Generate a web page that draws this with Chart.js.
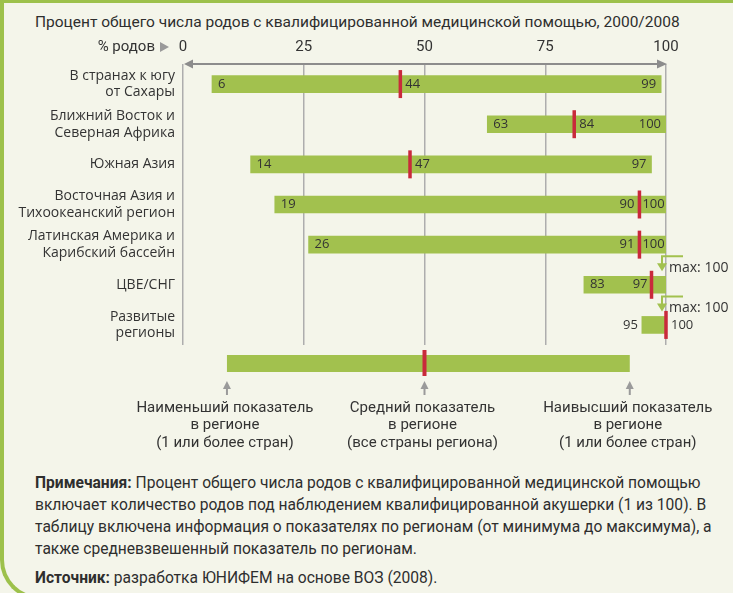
<!DOCTYPE html>
<html>
<head>
<meta charset="utf-8">
<script src="https://cdn.jsdelivr.net/npm/chart.js@4.4.1/dist/chart.umd.min.js"></script>
<style>
  html, body { margin: 0; padding: 0; background: #f4f5ea; }
  body { width: 733px; height: 593px; position: relative; overflow: hidden; font-family: Roboto, sans-serif; color: #2e2e2e; }
  #frame { position: absolute; left: 0; top: 0; width: 780px; height: 600px; box-sizing: border-box;
           border-left: 4px solid #9dc14b; border-top: 3px solid #9dc14b; border-bottom: 4px solid #9dc14b;
           border-bottom-left-radius: 40px; }
  #chart { position: absolute; left: 0; top: 0; }
  .title { position: absolute; left: 35px; top: 12px; font-size: 15.5px; line-height: 20px; white-space: nowrap; }
  .notes { position: absolute; left: 35px; top: 472px; font-size: 15.6px; line-height: 22px; white-space: nowrap; }
  .source { position: absolute; left: 35px; top: 567px; font-size: 15.6px; line-height: 22px; white-space: nowrap; }
</style>
</head>
<body>
<div id="frame"></div>
<div class="title">Процент общего числа родов с квалифицированной медицинской помощью, 2000/2008</div>
<canvas id="chart" width="733" height="460"></canvas>
<div class="notes"><b>Примечания:</b> Процент общего числа родов с квалифицированной медицинской помощью<br>включает количество родов под наблюдением квалифицированной акушерки (1 из 100). В<br>таблицу включена информация о показателях по регионам (от минимума до максимума), а<br>также средневзвешенный показатель по регионам.</div>
<div class="source"><b>Источник:</b> разработка ЮНИФЕМ на основе ВОЗ (2008).</div>
<script>
const regions = [
  ['В странах к югу', 'от Сахары'],
  ['Ближний Восток и', 'Северная Африка'],
  ['Южная Азия'],
  ['Восточная Азия и', 'Тихоокеанский регион'],
  ['Латинская Америка и', 'Карибский бассейн'],
  ['ЦВЕ/СНГ'],
  ['Развитые', 'регионы']
];
const minValues = [6, 63, 14, 19, 26, 83, 95];
const avgValues = [44, 84, 47, 90, 91, 97, 100];
const maxValues = [99, 100, 97, 100, 100, 100, 100];
// where the red average tick actually sits in the source figure
const avgMarks = [45, 81, 47, 94.5, 94.5, 97, 100];
const xTicks = [0, 25, 50, 75, 100];

const GREEN = '#a2c14e';
const RED = '#c92a3b';
const GREY = '#8c8c8c';
const TEXT = '#333333';
const LABEL_FONT = '13px "Open Sans"';

function tri(ctx, pts) {
  ctx.beginPath();
  ctx.moveTo(pts[0], pts[1]);
  ctx.lineTo(pts[2], pts[3]);
  ctx.lineTo(pts[4], pts[5]);
  ctx.closePath();
  ctx.fill();
}

function maxCallout(ctx, xEnd, top) {
  // small green bent arrow with "max: 100" above the bar
  const ax = xEnd - 4;
  ctx.strokeStyle = GREEN;
  ctx.fillStyle = GREEN;
  ctx.lineWidth = 2;
  ctx.beginPath();
  ctx.moveTo(xEnd + 17, top - 20);
  ctx.lineTo(ax, top - 20);
  ctx.lineTo(ax, top - 12);
  ctx.stroke();
  tri(ctx, [ax - 5, top - 13, ax + 5, top - 13, ax, top - 5]);
  ctx.fillStyle = TEXT;
  ctx.font = '14px "Open Sans"';
  ctx.textAlign = 'left';
  ctx.fillText('max: 100', xEnd + 3, top - 8);
}

const overlay = {
  id: 'overlay',
  afterDatasetsDraw(chart) {
    const { ctx, chartArea: a, scales: { x } } = chart;
    ctx.save();

    // top axis line with arrow heads
    ctx.strokeStyle = GREY;
    ctx.fillStyle = GREY;
    ctx.lineWidth = 2;
    ctx.beginPath();
    ctx.moveTo(a.left + 8, a.top);
    ctx.lineTo(a.right - 8, a.top);
    ctx.stroke();
    tri(ctx, [a.left + 1, a.top, a.left + 10, a.top - 4.5, a.left + 10, a.top + 4.5]);
    tri(ctx, [a.right + 1, a.top, a.right - 9, a.top - 4.5, a.right - 9, a.top + 4.5]);

    // axis caption
    ctx.fillStyle = TEXT;
    ctx.font = '15px Roboto';
    ctx.textBaseline = 'middle';
    ctx.textAlign = 'right';
    ctx.fillText('% родов', 155, 47);
    ctx.fillStyle = '#9a9a9a';
    tri(ctx, [160, 42, 160, 52, 169, 47]);

    // averages and value labels
    const meta = chart.getDatasetMeta(0);
    meta.data.forEach((bar, i) => {
      const cy = bar.y;
      const top = cy - 8.5;
      const x0 = x.getPixelForValue(minValues[i]);
      const x1 = x.getPixelForValue(maxValues[i]);
      const xm = x.getPixelForValue(avgMarks[i]);

      ctx.fillStyle = RED;
      ctx.fillRect(xm - 1.75, cy - 14, 3.5, 28);

      ctx.fillStyle = TEXT;
      ctx.font = LABEL_FONT;
      ctx.textBaseline = 'middle';

      if (x1 - x0 > 40) {
        ctx.textAlign = 'left';
        ctx.fillText(minValues[i], x0 + 6, cy);
      } else {
        ctx.textAlign = 'right';
        ctx.fillText(minValues[i], x0 - 4, cy);
      }

      const gap = x1 - xm;
      if (gap > 40) {
        ctx.textAlign = 'left';
        ctx.fillText(avgValues[i], xm + 5, cy);
        ctx.textAlign = 'right';
        ctx.fillText(maxValues[i], x1 - 5, cy);
      } else if (gap > 15) {
        ctx.textAlign = 'right';
        ctx.fillText(avgValues[i], xm - 5, cy);
        ctx.textAlign = 'left';
        ctx.fillText(maxValues[i], xm + 3, cy);
      } else if (gap > 5) {
        ctx.textAlign = 'right';
        ctx.fillText(avgValues[i], xm - 4, cy);
        maxCallout(ctx, x1, top);
      } else {
        ctx.textAlign = 'left';
        ctx.fillText(avgValues[i], xm + 5, cy);
        maxCallout(ctx, x1, top);
      }
    });

    // key below the chart
    const kx0 = x.getPixelForValue(9.1);
    const kxm = x.getPixelForValue(50);
    const kx1 = x.getPixelForValue(92.5);
    ctx.fillStyle = GREEN;
    ctx.fillRect(kx0, 355, kx1 - kx0, 17);
    ctx.fillStyle = RED;
    ctx.fillRect(kxm - 2, 350, 4, 26);

    const keyText = [
      ['Наименьший показатель', 'в регионе', '(1 или более стран)'],
      ['Средний показатель', 'в регионе', '(все страны региона)'],
      ['Наивысший показатель', 'в регионе', '(1 или более стран)']
    ];
    [kx0, kxm, kx1].forEach((kx, j) => {
      ctx.fillStyle = '#9a9a9a';
      tri(ctx, [kx - 4, 389, kx + 4, 389, kx, 381]);
      ctx.fillRect(kx - 1, 388, 2, 7);
      ctx.fillStyle = TEXT;
      ctx.font = '15px Roboto';
      ctx.textAlign = 'center';
      keyText[j].forEach((line, k) => ctx.fillText(line, kx - 2, 408 + k * 17.5));
    });

    ctx.restore();
  }
};

const ctx = document.getElementById('chart').getContext('2d');
const chart = new Chart(ctx, {
  type: 'bar',
  data: {
    labels: regions,
    datasets: [{
      data: minValues.map((v, i) => [v, maxValues[i]]),
      backgroundColor: GREEN,
      barThickness: 17,
      borderWidth: 0
    }]
  },
  options: {
    indexAxis: 'y',
    responsive: false,
    animation: false,
    devicePixelRatio: 1,
    layout: { padding: { left: 0, right: 67, top: 0, bottom: 115 } },
    plugins: { legend: { display: false }, tooltip: { enabled: false } },
    scales: {
      x: {
        position: 'top',
        min: 0,
        max: 100,
        afterBuildTicks: s => { s.ticks = xTicks.map(v => ({ value: v })); },
        afterFit: s => { s.height = 64; },
        grid: { color: '#adadad', lineWidth: 1.5, drawTicks: false },
        border: { display: false },
        ticks: { padding: 8, color: TEXT, font: { family: 'Roboto', size: 15 } }
      },
      y: {
        afterFit: s => { s.width = 183; },
        grid: { display: false, drawTicks: false },
        border: { display: false },
        ticks: { padding: 8, color: TEXT, font: { family: '"Open Sans"', size: 14 } }
      }
    }
  },
  plugins: [overlay]
});
</script>
</body>
</html>
